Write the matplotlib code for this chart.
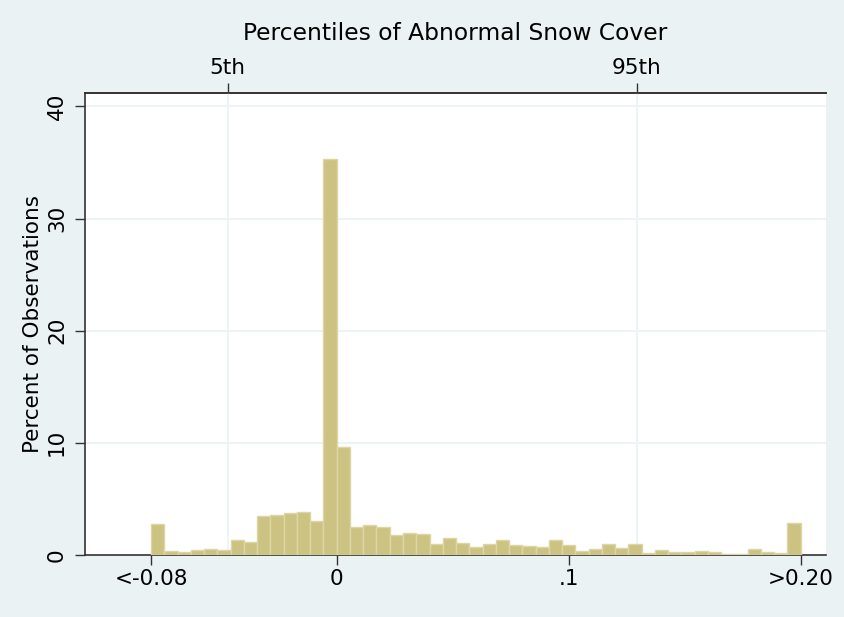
import numpy as np
import matplotlib.pyplot as plt

# histogram of abnormal snow cover, 49 bins from -0.08 to 0.20 (tails piled in end bins)
bin_lo = -0.08
bin_hi = 0.20
percent = [2.8, 0.4, 0.3, 0.45, 0.55, 0.45, 1.3, 1.2, 3.5, 3.55,
           3.75, 3.8, 3.0, 35.35, 9.65, 2.5, 2.7, 2.5, 1.8, 2.0,
           1.85, 1.0, 1.55, 1.05, 0.75, 0.95, 1.3, 0.9, 0.8, 0.7,
           1.35, 0.9, 0.4, 0.5, 1.0, 0.6, 0.95, 0.18, 0.45, 0.24,
           0.3, 0.33, 0.24, 0.12, 0.12, 0.56, 0.27, 0.18, 2.88]

bottom_ticks = [-0.08, 0, 0.1, 0.2]
bottom_labels = ['<-0.08', '0', '.1', '>0.20']
pctl_ticks = [-0.047, 0.1293]
pctl_labels = ['5th', '95th']
y_ticks = [0, 10, 20, 30, 40]

bg = '#EAF2F3'
bar_face = '#CCC383'
bar_edge = '#DDD6A4'
dark = '#333333'
fs = 15.5

fig = plt.figure(figsize=(8.45, 6.17), dpi=100, facecolor=bg)
ax = fig.add_axes([0.1006, 0.1005, 0.8769, 0.7488])

n = len(percent)
edges = np.linspace(bin_lo, bin_hi, n + 1)
width = edges[1] - edges[0]
ax.bar(edges[:-1], percent, width=width, align='edge',
       color=bar_face, edgecolor=bar_edge, linewidth=1.0, zorder=3)

ax.set_xlim(-0.1085, 0.2109)
ax.set_ylim(0, 41.2)

ax.set_xticks(bottom_ticks)
ax.set_xticklabels(bottom_labels)
ax.set_yticks(y_ticks)
ax.set_yticklabels([str(v) for v in y_ticks], rotation=90, va='center')
ax.set_ylabel('Percent of Observations', fontsize=fs, labelpad=3)

# horizontal grid
for v in y_ticks[1:]:
    ax.axhline(v, color=bg, linewidth=1.2, zorder=1)
# percentile lines
for v in pctl_ticks:
    ax.axvline(v, color=bg, linewidth=1.2, zorder=1)

ax.tick_params(axis='both', direction='out', length=7, width=1.0,
               labelsize=fs, color=dark)
ax.tick_params(axis='x', pad=3)
ax.tick_params(axis='y', pad=6)

for s in ['left', 'bottom', 'top']:
    ax.spines[s].set_color(dark)
    ax.spines[s].set_linewidth(1.2)
ax.spines['right'].set_visible(False)

top = ax.secondary_xaxis('top')
top.set_xticks(pctl_ticks)
top.set_xticklabels(pctl_labels)
top.tick_params(direction='out', length=7, width=1.0, labelsize=fs,
                color=dark, pad=4)
top.spines['top'].set_color(dark)
top.spines['top'].set_linewidth(1.2)
top.set_xlabel('Percentiles of Abnormal Snow Cover', fontsize=16.8, labelpad=13)

fig.savefig('out.png', dpi=100, facecolor=bg)
